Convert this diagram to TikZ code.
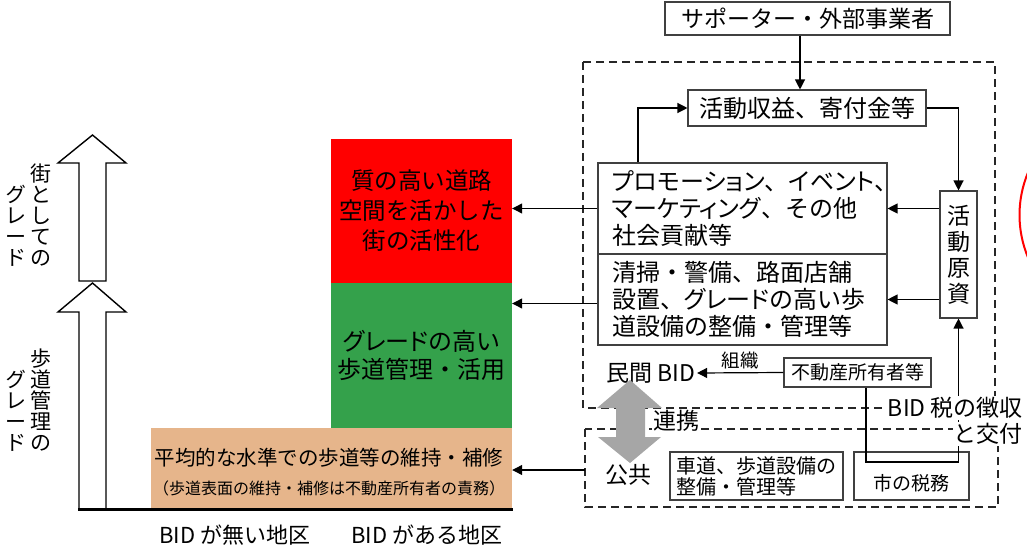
\documentclass[tikz,border=0pt]{standalone}
\usepackage{fontspec}
\setmainfont{Noto Sans CJK JP}
\newfontfamily\kp[RawFeature=+palt]{Noto Sans CJK JP}
\newfontfamily\vt[RawFeature=+vert]{Noto Sans CJK JP}
\usetikzlibrary{arrows.meta,calc}
\newcommand\fs[2]{\fontsize{#1}{#2}\selectfont}
\definecolor{bidred}{HTML}{FF0000}
\definecolor{bidgreen}{HTML}{34A14B}
\definecolor{bidtan}{HTML}{E6B58B}
\definecolor{bidgray}{HTML}{A6A6A6}
\definecolor{bline}{HTML}{404040}
\tikzset{
  box/.style={draw=bline, line width=1.1pt, fill=white, inner sep=0pt},
  arr/.style={-{Triangle[length=10pt,width=10pt]}, line width=1.2pt},
  dbox/.style={draw=black!85, dash pattern=on 8pt off 5pt, line width=2pt},
  blockarrow/.style={draw=black, line width=1.4pt, fill=white},
  vtext/.style={align=center, inner sep=0pt, font=\fs{21}{21}},
  cover/.style={fill=white, inner sep=1pt},
}
\begin{document}
\begin{tikzpicture}[x=1pt,y=-1pt]
\useasboundingbox (0,0) rectangle (1027,548);
% helper coordinates
\coordinate (c1) at (800,0);
\coordinate (c2) at (638,0);
\coordinate (tx) at (866,462);
\coordinate (pubL) at (585,470);

% left block arrows
\draw[blockarrow] (79,281) -- (79,163) -- (58,163) -- (92.5,135) -- (126,163) -- (106,163) -- (106,281) -- cycle;
\draw[blockarrow] (79,509) -- (79,312) -- (58,312) -- (92.5,283) -- (126,312) -- (106,312) -- (106,509) -- cycle;
\node[vtext] (v1) at (41,215) {街\\と\\し\\て\\の};
\node[vtext] (v2) at (16,226) {\vt グ\\レ\\ー\\ド};
\node[vtext] (v3) at (41,400) {歩\\道\\管\\理\\の};
\node[vtext] (v4) at (16,411) {\vt グ\\レ\\ー\\ド};

% coloured blocks
\node[fill=bidred, minimum width=181, minimum height=144, inner sep=0pt, align=center, font=\fs{23.5}{30}] (red) at (421.5,211) {質の高い道路\\空間を活かした\\街の活性化};
\node[fill=bidgreen, minimum width=181, minimum height=145, inner sep=0pt, align=center, font=\fs{24}{28}] (green) at (421.5,355.5) {{\kp グレード}の高い\\歩道管理・活用};
\node[fill=bidtan, minimum width=361, minimum height=80, inner sep=0pt] (tan) at (331.5,468) {};
\node[inner sep=0pt, font=\fs{20.5}{22}] (tan1) at (329,458) {平均的な水準での歩道等の維持・補修};
\node[inner sep=0pt, font=\fs{16}{17}] (tan2) at (329,488) {（歩道表面の維持・補修は不動産所有者の責務）};
\draw[line width=3pt] (78,509) -- (513,509);
\node[inner sep=0pt, font=\fs{22}{23}] (lab1) at (235,535) {BID が無い地区};
\node[inner sep=0pt, font=\fs{22}{23}] (lab2) at (427,535) {BID がある地区};

% dashed frames
\draw[dbox] (583,62) rectangle (995,408);
\draw[dbox] (585,429) rectangle (998,507);

% right side boxes
\node[box, minimum width=285, minimum height=33, font=\fs{23}{26}] (sup) at (807.5,18.5) {サポーター・外部事業者};
\node[box, minimum width=238, minimum height=36, font=\fs{24}{26}] (kat) at (807,108) {活動収益、寄付金等};
\node[box, minimum height=91, text width=261, inner xsep=14pt, align=left, font=\fs{24}{27}] (promo) at (742.5,208.5) {{\kp プロモーション}、{\kp イベント}、\\{\kp マーケティング}、その他\\社会貢献等};
\node[box, minimum height=91, text width=261, inner xsep=14pt, align=left, font=\fs{24}{27}] (clean) at (742.5,299.5) {清掃・警備、路面店舗\\設置、{\kp グレード}の高い歩\\道設備の整備・管理等};
\node[box, minimum width=37, minimum height=127, align=center, font=\fs{23}{26}] (gen) at (958.5,254.5) {活\\動\\原\\資};
\node[box, minimum width=147, minimum height=29, font=\fs{19}{21}] (fudo) at (857.5,372.5) {不動産所有者等};
\node[box, minimum width=173, minimum height=48, text width=161, inner xsep=6pt, align=left, font=\fs{20}{21}] (shado) at (756.5,476) {車道、歩道設備の\\整備・管理等};
\node[box, minimum width=115, minimum height=48] (zeimu) at (911.5,476) {};
\node[inner sep=0pt, font=\fs{19}{21}] (zeimut) at (911.5,483) {市の税務};
\node[inner sep=2pt, font=\fs{23}{25}] (minkan) at (650.5,373) {民間 BID};
\node[inner sep=0pt, font=\fs{23}{25}] (kokyo) at (628.5,475) {公共};

% connectors
\draw[arr] (sup.south -| c1) -- (kat.north -| c1);
\draw[arr] (promo.north -| c2) |- (kat.west);
\draw[arr] (kat.east) -| (gen.north);
\draw[arr] (gen.west |- promo.east) -- (promo.east);
\draw[arr] (gen.west |- clean.east) -- (clean.east);
\draw[arr] (promo.west) -- (promo.west -| red.east);
\draw[arr] ($(clean.west)+(0,4)$) -- ($(clean.west -| green.east)+(0,4)$);
\draw[arr] (pubL) -- (pubL -| tan.east);
\draw[arr] (fudo.west) -- node[above=3pt, inner sep=0pt, font=\fs{18.5}{20}] (soshiki) {組織} (minkan.east);
\draw[line width=1.2pt] (fudo.south -| tx) -- (tx) -| (gen.south);
\draw[arr] (gen.south |- tx) -- (gen.south);

% grey double arrow
\fill[bidgray] (630,380) -- (662,408) -- (645,408) -- (645,437) -- (661,437) -- (630,463) -- (598,437) -- (616,437) -- (616,408) -- (597,408) -- cycle;

% labels that interrupt lines
\node[cover, font=\fs{23}{25}] (renkei) at (676,421) {連携};
\node[cover, anchor=east, font=\fs{23}{25}] (tax1) at (1024,408) {BID 税の徴収};
\node[cover, anchor=east, font=\fs{23}{25}] (tax2) at (1024,434) {と交付};

% red arc at right edge
\draw[red, line width=2pt] (1030,168) .. controls (1016,198) and (1016,232) .. (1030,262);
\end{tikzpicture}
\end{document}
